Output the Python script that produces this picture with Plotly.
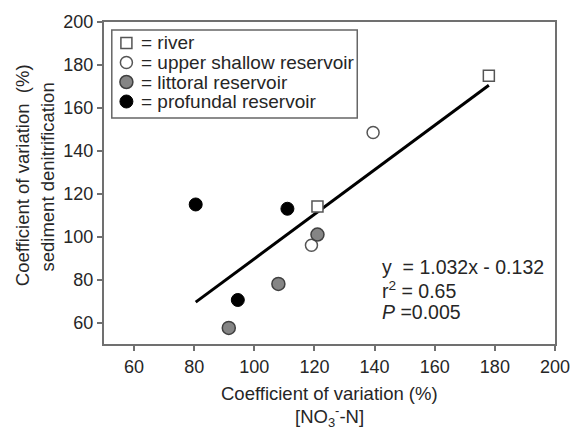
import plotly.graph_objects as go

# ---- data ----
river_x = [178, 121]
river_y = [175, 114]
shallow_x = [139.5, 119]
shallow_y = [148.5, 96]
littoral_x = [121, 108, 91.5]
littoral_y = [101, 78, 57.5]
profundal_x = [80.5, 111, 94.5]
profundal_y = [115, 113, 70.5]
fit_x = [80.5, 178]
fit_y = [69.5, 170.5]
x_ticks = [60, 80, 100, 120, 140, 160, 180, 200]
y_ticks = [60, 80, 100, 120, 140, 160, 180, 200]
legend_labels = ["= river", "= upper shallow reservoir", "= littoral reservoir", "= profundal reservoir"]
stats_lines = ["y  = 1.032x - 0.132", "r<sup>2</sup> = 0.65", "<i>P</i> =0.005"]

FONT = "Liberation Sans, Arial, sans-serif"
TXT = "#262626"
AX = "#707070"

# plot-area geometry (pixels) used for placing paper-referenced decorations
L, R, T, B = 104, 15, 22, 85
W, H = 582, 429
PW, PH = W - L - R, H - T - B


def px_x(px):
    return (px - L) / PW


def px_y(py):
    return (H - B - py) / PH


styles = [
    dict(symbol="square", size=11, color="white", line=dict(color="#555555", width=1.5)),
    dict(symbol="circle", size=12, color="white", line=dict(color="#555555", width=1.5)),
    dict(symbol="circle", size=13, color="#858585", line=dict(color="#404040", width=1.5)),
    dict(symbol="circle", size=13, color="black", line=dict(color="black", width=1)),
]
series = [(river_x, river_y), (shallow_x, shallow_y), (littoral_x, littoral_y), (profundal_x, profundal_y)]

fig = go.Figure()
fig.add_trace(go.Scatter(x=fit_x, y=fit_y, mode="lines", line=dict(color="black", width=3),
                         showlegend=False, hoverinfo="skip"))
for (xs, ys), st, name in zip(series, styles, legend_labels):
    fig.add_trace(go.Scatter(x=xs, y=ys, mode="markers", name=name, marker=st, showlegend=False))

axis_common = dict(showgrid=False, zeroline=False, showline=True, linecolor=AX, linewidth=2,
                   mirror=True, ticks="outside", ticklen=5, tickwidth=1.5, tickcolor=AX,
                   ticklabeloverflow="allow",
                   tickfont=dict(family=FONT, size=18, color=TXT))
fig.update_xaxes(range=[50, 200], tickvals=x_ticks, **axis_common)
fig.update_yaxes(range=[50, 200], tickvals=y_ticks, **axis_common)

shapes = [dict(type="rect", xref="paper", yref="paper", x0=px_x(112), x1=px_x(364),
               y0=px_y(118), y1=px_y(30), line=dict(color="#666666", width=1.5),
               fillcolor="white", layer="above")]
annotations = []
row_y = [43, 62.5, 82, 101.5]
for py, st, label in zip(row_y, styles, legend_labels):
    half = st["size"] / 2
    shapes.append(dict(type="rect" if st["symbol"] == "square" else "circle",
                       xref="paper", yref="paper", xsizemode="pixel", ysizemode="pixel",
                       xanchor=px_x(127), yanchor=px_y(py),
                       x0=-half, x1=half, y0=-half, y1=half,
                       fillcolor=st["color"], line=st["line"], layer="above"))
    annotations.append(dict(text=label, xref="paper", yref="paper", x=px_x(140), y=px_y(py),
                            xanchor="left", yanchor="middle", showarrow=False,
                            font=dict(family=FONT, size=19, color=TXT)))

# axis titles
annotations += [
    dict(text="Coefficient of variation  (%)", xref="paper", yref="paper", x=px_x(21), y=px_y(175),
         textangle=-90, showarrow=False, xanchor="center", yanchor="middle",
         font=dict(family=FONT, size=18.5, color=TXT)),
    dict(text="sediment denitrification", xref="paper", yref="paper", x=px_x(45), y=px_y(177),
         textangle=-90, showarrow=False, xanchor="center", yanchor="middle",
         font=dict(family=FONT, size=18.5, color=TXT)),
    dict(text="Coefficient of variation (%)", xref="paper", yref="paper", x=0.5, y=px_y(393),
         showarrow=False, xanchor="center", yanchor="middle",
         font=dict(family=FONT, size=18.5, color=TXT)),
    dict(text="[NO<sub>3</sub><sup>-</sup>-N]", xref="paper", yref="paper", x=0.5, y=px_y(416),
         showarrow=False, xanchor="center", yanchor="middle",
         font=dict(family=FONT, size=18.5, color=TXT)),
]
for py, line in zip([267, 289.5, 312], stats_lines):
    annotations.append(dict(text=line, xref="paper", yref="paper", x=px_x(387), y=px_y(py),
                            xanchor="left", yanchor="middle", showarrow=False,
                            font=dict(family=FONT, size=19.5, color=TXT)))

fig.update_layout(
    width=W, height=H,
    margin=dict(l=L, r=R, t=T, b=B),
    plot_bgcolor="white", paper_bgcolor="white",
    font=dict(family=FONT, color=TXT),
    showlegend=False,
    shapes=shapes,
    annotations=annotations,
)

fig.write_html("out.html")
